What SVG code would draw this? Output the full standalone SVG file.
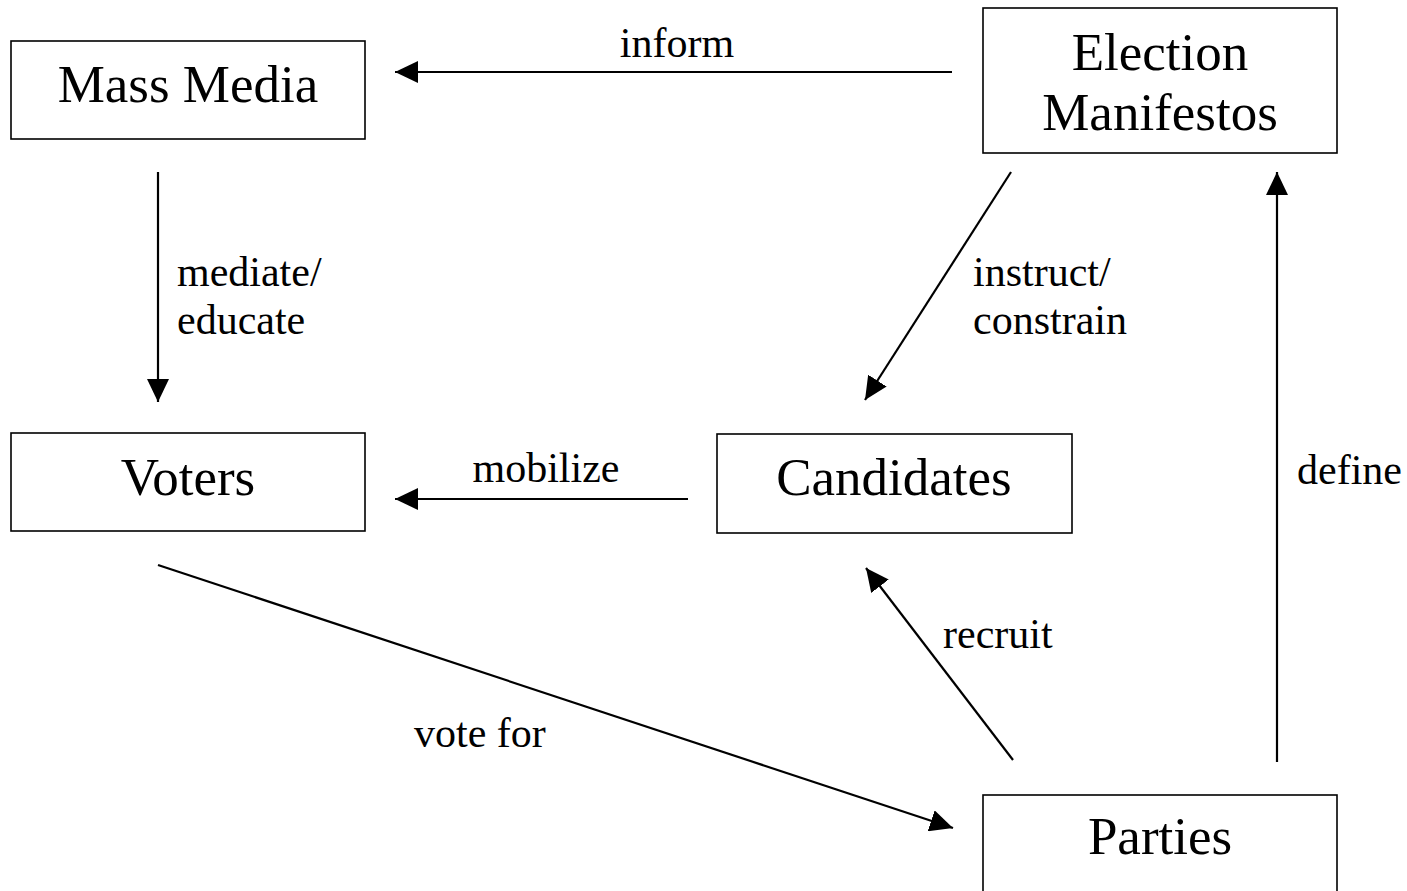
<svg xmlns="http://www.w3.org/2000/svg" width="1407" height="891" viewBox="0 0 1407 891">
<style>
.box{fill:#fff;stroke:#000;stroke-width:1.6}
.nt{font-family:"Liberation Serif","Times New Roman",serif;font-size:53px;text-anchor:middle;fill:#000}
.lt{font-family:"Liberation Serif","Times New Roman",serif;font-size:42px;fill:#000}
.edge{stroke:#000;stroke-width:2.2;fill:none;marker-end:url(#ah)}
</style>
<defs>
<marker id="ah" markerUnits="userSpaceOnUse" markerWidth="24" markerHeight="22" refX="23" refY="11" orient="auto" viewBox="0 0 24 22">
<path d="M0,0 L23,11 L0,22 z" fill="#000"/>
</marker>
</defs>
<rect width="1407" height="891" fill="#fff"/>
<g id="connectors">
<line class="edge" x1="952" y1="72" x2="395" y2="72"/>
<line class="edge" x1="158" y1="172" x2="158" y2="402"/>
<line class="edge" x1="1011" y1="172" x2="865" y2="400"/>
<line class="edge" x1="688" y1="499" x2="395" y2="499"/>
<line class="edge" x1="1277" y1="762" x2="1277" y2="172"/>
<line class="edge" x1="1013" y1="760" x2="866" y2="568"/>
<line class="edge" x1="158" y1="565" x2="953" y2="828"/>
<text class="lt" x="677" y="57" text-anchor="middle">inform</text>
<text class="lt" x="177" y="286">mediate/</text>
<text class="lt" x="177" y="334">educate</text>
<text class="lt" x="973" y="286">instruct/</text>
<text class="lt" x="973" y="334">constrain</text>
<text class="lt" x="546" y="482" text-anchor="middle">mobilize</text>
<text class="lt" x="1297" y="484">define</text>
<text class="lt" x="943" y="648">recruit</text>
<text class="lt" x="414" y="747">vote for</text>
</g>
<g id="mass-media">
<rect class="box" x="11" y="41" width="354" height="98"/>
<text class="nt" x="188" y="102">Mass Media</text>
</g>
<g id="election-manifestos">
<rect class="box" x="983" y="8" width="354" height="145"/>
<text class="nt" x="1160" y="70">Election</text>
<text class="nt" x="1160" y="130">Manifestos</text>
</g>
<g id="voters">
<rect class="box" x="11" y="433" width="354" height="98"/>
<text class="nt" x="188" y="495">Voters</text>
</g>
<g id="candidates">
<rect class="box" x="717" y="434" width="355" height="99"/>
<text class="nt" x="894" y="495">Candidates</text>
</g>
<g id="parties">
<rect class="box" x="983" y="795" width="354" height="110"/>
<text class="nt" x="1160" y="854">Parties</text>
</g>
</svg>
